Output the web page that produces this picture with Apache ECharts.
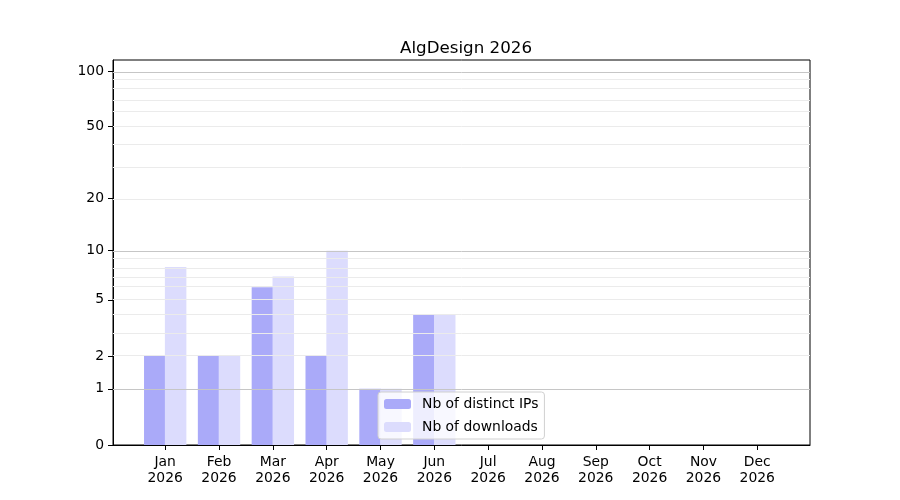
<!DOCTYPE html>
<html>
<head>
<meta charset="utf-8">
<script src="https://cdn.jsdelivr.net/npm/echarts@6/dist/echarts.min.js"></script>
<style>
  html, body { margin: 0; padding: 0; background: #fff; }
  #chart { width: 900px; height: 500px; }
</style>
</head>
<body>
<div id="chart"></div>
<script>
var months = ['Jan', 'Feb', 'Mar', 'Apr', 'May', 'Jun', 'Jul', 'Aug', 'Sep', 'Oct', 'Nov', 'Dec'];
var year_label = '2026';
var distinct_ips = [2, 2, 6, 2, 1, 4, 0, 0, 0, 0, 0, 0];
var downloads = [8, 2, 7, 10, 1, 4, 0, 0, 0, 0, 0, 0];
var y_tick_values = [0, 1, 2, 5, 10, 20, 50, 100];
var major_grid = [1, 10, 100];
var minor_grid = [2, 3, 4, 5, 6, 7, 8, 9, 20, 30, 40, 50, 60, 70, 80, 90];

// y scale is log10(1 + v)
function tr(v) { return Math.log10(1 + v); }
function untr(t) { return Math.round(Math.pow(10, t) - 1); }

var font = 'DejaVu Sans';
var fs = 13.9;

function to_points(arr) {
    var out = [];
    for (var i = 0; i < arr.length; i++) {
        out.push([i, tr(arr[i])]);
    }
    return out;
}

var grid_lines = [];
for (var v of minor_grid) {
    grid_lines.push({ yAxis: tr(v), lineStyle: { color: '#ebebeb', width: 1, type: 'solid' } });
}
for (var v of major_grid) {
    grid_lines.push({ yAxis: tr(v), lineStyle: { color: '#c6c6c6', width: 1, type: 'solid' } });
}

var x_ticks = [];
for (var i = 0; i < months.length; i++) x_ticks.push(i);

var chart = echarts.init(document.getElementById('chart'));

var option = {
    animation: false,
    textStyle: { fontFamily: font, color: '#000' },
    title: {
        text: 'AlgDesign 2026',
        left: 461,
        top: 35,
        textAlign: 'center',
        textStyle: { fontFamily: font, fontSize: 16.7, fontWeight: 'normal', color: '#000' }
    },
    legend: {
        orient: 'vertical',
        left: 378,
        top: 392,
        padding: [5, 6, 5, 6],
        itemWidth: 27,
        itemHeight: 10,
        itemGap: 9,
        backgroundColor: 'rgba(255,255,255,0.8)',
        borderColor: '#d0d0d0',
        borderWidth: 1,
        borderRadius: 3,
        data: ['Nb of distinct IPs', 'Nb of downloads'],
        textStyle: { fontFamily: font, fontSize: fs, color: '#000', padding: [0, 0, 0, 6] }
    },
    grid: {
        left: 113,
        right: 90,
        top: 60,
        bottom: 55,
        show: true,
        borderColor: '#000',
        borderWidth: 1,
        backgroundColor: 'transparent'
    },
    xAxis: {
        type: 'value',
        min: -0.97,
        max: 11.98,
        splitLine: { show: false },
        axisLine: { show: true, onZero: false, lineStyle: { color: '#000', width: 1 } },
        axisTick: {
            show: true,
            customValues: x_ticks,
            length: 5,
            lineStyle: { color: '#000' }
        },
        axisLabel: {
            customValues: x_ticks,
            margin: 9,
            fontFamily: font,
            fontSize: fs,
            lineHeight: 16,
            color: '#000',
            formatter: function (val) {
                return months[Math.round(val)] + '\n' + year_label;
            }
        }
    },
    yAxis: {
        type: 'value',
        min: 0,
        max: 2.064,
        splitLine: { show: false },
        axisLine: { show: true, onZero: false, lineStyle: { color: '#000', width: 1 } },
        axisTick: {
            show: true,
            customValues: y_tick_values.map(tr),
            length: 5,
            lineStyle: { color: '#000' }
        },
        axisLabel: {
            customValues: y_tick_values.map(tr),
            margin: 9,
            fontFamily: font,
            fontSize: fs,
            color: '#000',
            formatter: function (val) { return String(untr(val)); }
        }
    },
    series: [
        {
            name: 'Nb of distinct IPs',
            type: 'bar',
            barWidth: 21.5,
            barGap: '-3%',
            itemStyle: { color: '#aaaaf9', borderWidth: 0 },
            data: to_points(distinct_ips),
            z: 2
        },
        {
            name: 'Nb of downloads',
            type: 'bar',
            barWidth: 21.5,
            barGap: '-3%',
            itemStyle: { color: '#dcdcfd', borderWidth: 0 },
            data: to_points(downloads),
            z: 2
        },
        {
            name: 'grid',
            type: 'line',
            data: [],
            silent: true,
            z: 3,
            markLine: {
                silent: true,
                symbol: ['none', 'none'],
                label: { show: false },
                animation: false,
                data: grid_lines
            }
        }
    ]
};

chart.setOption(option);
</script>
</body>
</html>
